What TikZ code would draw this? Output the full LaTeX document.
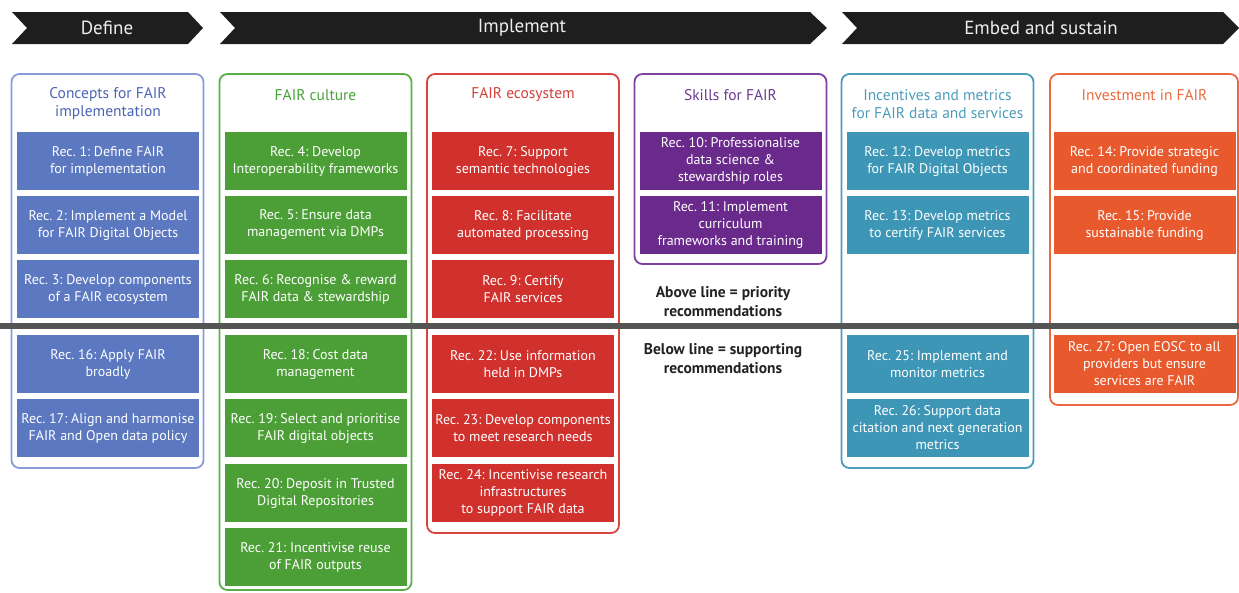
\documentclass[tikz,border=0pt]{standalone}
\usepackage{fontspec}
\setmainfont{PT Sans}
\frenchspacing
\definecolor{banner}{HTML}{1E1E1E}
\definecolor{bannertxt}{HTML}{EDEDED}
\definecolor{blueF}{HTML}{5B78C0}
\definecolor{blueB}{HTML}{8A9BDA}
\definecolor{blueT}{HTML}{4A63B5}
\definecolor{greenF}{HTML}{4C9F37}
\definecolor{greenB}{HTML}{5BAF48}
\definecolor{greenT}{HTML}{48A23A}
\definecolor{redF}{HTML}{D0312D}
\definecolor{redB}{HTML}{D9443F}
\definecolor{redT}{HTML}{D2413B}
\definecolor{purpF}{HTML}{6A2A8C}
\definecolor{purpB}{HTML}{7D41A2}
\definecolor{purpT}{HTML}{6B3A90}
\definecolor{tealF}{HTML}{3E96B6}
\definecolor{tealB}{HTML}{4A9DBA}
\definecolor{tealT}{HTML}{4B9CBA}
\definecolor{orgF}{HTML}{E85A2E}
\definecolor{orgB}{HTML}{EA6A40}
\definecolor{orgT}{HTML}{E96A3E}
\definecolor{rule}{HTML}{545454}
\definecolor{note}{HTML}{222222}
\tikzset{
  chev/.style={fill=banner},
  chevtxt/.style={text=bannertxt, font=\fontsize{19}{22}\selectfont, inner sep=0pt},
  colbox/.style={draw=#1, line width=1.8pt, rounded corners=8pt, minimum width=192pt, inner sep=0pt},
  coltitle/.style={text=#1, font=\fontsize{15.5}{18}\selectfont, align=center, inner sep=0pt},
  recbox/.style={fill=#1, text=white, font=\fontsize{14}{17}\selectfont, align=center,
                 inner sep=0pt, minimum width=182pt, minimum height=58pt},
  notetxt/.style={text=note, font=\bfseries\fontsize{15.5}{19}\selectfont, align=center, inner sep=0pt},
}
\begin{document}
\begin{tikzpicture}[x=1pt,y=-1pt]
\useasboundingbox (0,0) rectangle (1239,592);
% banner chevrons
\fill[chev] (12,12) -- (188,12) -- (203,28) -- (188,44) -- (12,44) -- (27,28) -- cycle;
\fill[chev] (220,12) -- (810,12) -- (827,28) -- (810,44) -- (220,44) -- (235,28) -- cycle;
\fill[chev] (842,12) -- (1223,12) -- (1239,28) -- (1223,44) -- (842,44) -- (857,28) -- cycle;
\node[chevtxt] (define) at (107,28) {Define};
\node[chevtxt] (implement) at (522,28) {Implement};
\node[chevtxt] (embed) at (1041,28) {Embed and sustain};
% column frames
\node[colbox=blueB, minimum height=394pt] (col1) at (107.5,271) {};
\node[colbox=greenB, minimum height=516pt] (col2) at (315.5,332) {};
\node[colbox=redB, minimum height=459pt] (col3) at (523,303.5) {};
\node[colbox=purpB, minimum height=190pt] (col4) at (730.5,169) {};
\node[colbox=tealB, minimum height=394pt] (col5) at (937.5,271) {};
\node[colbox=orgB, minimum height=331pt, minimum width=188pt] (col6) at (1144,239.5) {};
% titles
\node[coltitle=blueT] (t1) at (108,104) {Concepts for FAIR\\implementation};
\node[coltitle=greenT] (t2) at (315.5,95) {FAIR culture};
\node[coltitle=redT] (t3) at (523,95) {FAIR ecosystem};
\node[coltitle=purpT] (t4) at (730.5,95) {Skills for FAIR};
\node[coltitle=tealT] (t5) at (937.5,104) {Incentives and metrics\\for FAIR data and services};
\node[coltitle=orgT] (t6) at (1144.5,95) {Investment in FAIR};
% column 1
\node[recbox=blueF] (r1) at (108,161) {Rec. 1: Define FAIR\\for implementation};
\node[recbox=blueF] (r2) at (108,225) {Rec. 2: Implement a Model\\for FAIR Digital Objects};
\node[recbox=blueF] (r3) at (108,289) {Rec. 3: Develop components\\of a FAIR ecosystem};
\node[recbox=blueF] (r16) at (108,364) {Rec. 16: Apply FAIR\\broadly};
\node[recbox=blueF] (r17) at (108,428) {Rec. 17: Align and harmonise\\FAIR and Open data policy};
% column 2
\node[recbox=greenF] (r4) at (315.5,161) {Rec. 4: Develop\\Interoperability frameworks};
\node[recbox=greenF] (r5) at (315.5,225) {Rec. 5: Ensure data\\management via DMPs};
\node[recbox=greenF] (r6) at (315.5,289) {Rec. 6: Recognise \& reward\\FAIR data \& stewardship};
\node[recbox=greenF] (r18) at (315.5,364) {Rec. 18: Cost data\\management};
\node[recbox=greenF] (r19) at (315.5,428) {Rec. 19: Select and prioritise\\FAIR digital objects};
\node[recbox=greenF] (r20) at (315.5,493) {Rec. 20: Deposit in Trusted\\Digital Repositories};
\node[recbox=greenF] (r21) at (315.5,557) {Rec. 21: Incentivise reuse\\of FAIR outputs};
% column 3
\node[recbox=redF] (r7) at (523,161) {Rec. 7: Support\\semantic technologies};
\node[recbox=redF] (r8) at (523,225) {Rec. 8: Facilitate\\automated processing};
\node[recbox=redF] (r9) at (523,289) {Rec. 9: Certify\\FAIR services};
\node[recbox=redF] (r22) at (523,364) {Rec. 22: Use information\\held in DMPs};
\node[recbox=redF] (r23) at (523,428) {Rec. 23: Develop components\\to meet research needs};
\node[recbox=redF] (r24) at (523,493) {Rec. 24: Incentivise research\\infrastructures\\to support FAIR data};
% column 4
\node[recbox=purpF] (r10) at (730.5,161) {Rec. 10: Professionalise\\data science \&\\stewardship roles};
\node[recbox=purpF] (r11) at (730.5,225) {Rec. 11: Implement\\curriculum\\frameworks and training};
% column 5
\node[recbox=tealF] (r12) at (937.5,161) {Rec. 12: Develop metrics\\for FAIR Digital Objects};
\node[recbox=tealF] (r13) at (937.5,225) {Rec. 13: Develop metrics\\to certify FAIR services};
\node[recbox=tealF] (r25) at (937.5,364) {Rec. 25: Implement and\\monitor metrics};
\node[recbox=tealF] (r26) at (937.5,428) {Rec. 26: Support data\\citation and next generation\\metrics};
% column 6
\node[recbox=orgF] (r14) at (1144.5,161) {Rec. 14: Provide strategic\\and coordinated funding};
\node[recbox=orgF] (r15) at (1144.5,225) {Rec. 15: Provide\\sustainable funding};
\node[recbox=orgF] (r27) at (1144.5,364) {Rec. 27: Open EOSC to all\\providers but ensure\\services are FAIR};
% dividing line
\coordinate (lineL) at (0,326);
\coordinate (lineR) at (1239,326);
\draw[rule, line width=6pt] (lineL) -- (lineR);
% notes
\node[notetxt] (above) at (723,301.5) {Above line = priority\\recommendations};
\node[notetxt] (below) at (723,358.5) {Below line = supporting\\recommendations};
\end{tikzpicture}
\end{document}
